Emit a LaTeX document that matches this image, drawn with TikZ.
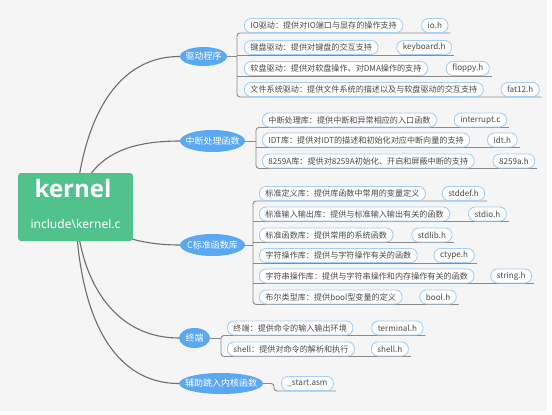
\documentclass[tikz,border=0pt]{standalone}
\usepackage{fontspec}
\setmainfont{Noto Sans}
\newfontfamily\cjk{Noto Sans CJK SC}
\newfontfamily\kfont{Open Sans}
\usetikzlibrary{shapes.geometric,positioning,backgrounds,calc}
\definecolor{bgc}{HTML}{F5F5F5}
\definecolor{kgreen}{HTML}{52C28D}
\definecolor{bblue}{HTML}{5AA8F2}
\definecolor{lborder}{HTML}{A6CFF5}
\definecolor{ltext}{HTML}{484848}
\definecolor{lline}{HTML}{8A8A8A}
\definecolor{cline}{HTML}{6E6E6E}
\begin{document}
\begin{tikzpicture}[x=1pt,y=-1pt,
  leaf/.style={draw=lborder, line width=0.9pt, fill=white, rounded corners=6.5pt,
    minimum height=14pt, inner xsep=6pt, inner ysep=0pt, text=ltext,
    font=\cjk\fontsize{8.1}{9}\selectfont, anchor=west},
  branch/.style={ellipse, fill=bblue, text=white, inner sep=0pt,
    font=\cjk\fontsize{9}{11}\selectfont},
  tree/.style={draw=lline, line width=0.9pt, rounded corners=3pt},
  curve/.style={draw=cline, line width=1.1pt},
]
\useasboundingbox (0,0) rectangle (552,415);
\begin{scope}[on background layer]
  \fill[white] (0,0) rectangle (552,415);
  \fill[bgc] (0,0) rectangle (547,411);
\end{scope}

% central node
\node[fill=kgreen, rounded corners=3pt, minimum width=115pt, minimum height=68pt, inner sep=0pt] (kernel) at (75.5,207) {};
\node[text=white, font=\kfont\bfseries\fontsize{24}{24}\selectfont, inner sep=0pt] (ktitle) at (73,188) {kernel};
\node[text=white, font=\fontsize{12}{14}\selectfont, inner sep=0pt] (ksub) at (75.5,224) {include\textbackslash kernel.c};

% branches
\node[branch, minimum width=47pt, minimum height=19pt] (drv) at (203.5,56.5) {\makebox[0pt]{驱动程序}};
\node[branch, minimum width=65pt, minimum height=22pt] (int) at (212.5,141) {\makebox[0pt]{中断处理函数}};
\node[branch, minimum width=65pt, minimum height=22pt] (clib) at (212.5,245) {\makebox[0pt]{C标准函数库}};
\node[branch, minimum width=31pt, minimum height=20pt] (term) at (194.5,338) {\makebox[0pt]{终端}};
\node[branch, minimum width=84pt, minimum height=21pt] (aux) at (221,383.5) {\makebox[0pt]{辅助跳入内核函数}};

% driver leaves
\node[leaf] (d1) at (244,25.5) {IO驱动：提供对IO端口与显存的操作支持};
\node[leaf, right=18pt of d1] (d1f) {io.h};
\node[leaf] (d2) at (244,47.5) {键盘驱动：提供对键盘的交互支持};
\node[leaf, right=18pt of d2] (d2f) {keyboard.h};
\node[leaf] (d3) at (244,68.5) {软盘驱动：提供对软盘操作、对DMA操作的支持};
\node[leaf, right=18pt of d3] (d3f) {floppy.h};
\node[leaf] (d4) at (244,89.5) {文件系统驱动：提供文件系统的描述以及与软盘驱动的交互支持};
\node[leaf, right=17pt of d4] (d4f) {fat12.h};

% interrupt leaves
\node[leaf] (i1) at (262,120) {中断处理库：提供中断和异常相应的入口函数};
\node[leaf, right=17pt of i1] (i1f) {interrupt.c};
\node[leaf] (i2) at (262,140) {IDT库：提供对IDT的描述和初始化对应中断向量的支持};
\node[leaf, right=17pt of i2] (i2f) {idt.h};
\node[leaf] (i3) at (262,161) {8259A库：提供对8259A初始化、开启和屏蔽中断的支持};
\node[leaf, right=18pt of i3] (i3f) {8259a.h};

% C library leaves
\node[leaf] (c1) at (259,193.5) {标准定义库：提供库函数中常用的变量定义};
\node[leaf, right=16pt of c1] (c1f) {stddef.h};
\node[leaf] (c2) at (259,214) {标准输入输出库：提供与标准输入输出有关的函数};
\node[leaf, right=18pt of c2] (c2f) {stdio.h};
\node[leaf] (c3) at (259,235) {标准函数库：提供常用的系统函数};
\node[leaf, right=18pt of c3] (c3f) {stdlib.h};
\node[leaf] (c4) at (259,255.5) {字符操作库：提供与字符操作有关的函数};
\node[leaf, right=16pt of c4] (c4f) {ctype.h};
\node[leaf] (c5) at (259,276) {字符串操作库：提供与字符串操作和内存操作有关的函数};
\node[leaf, right=16pt of c5] (c5f) {string.h};
\node[leaf] (c6) at (259,297) {布尔类型库：提供bool型变量的定义};
\node[leaf, right=17pt of c6] (c6f) {bool.h};

% terminal leaves
\node[leaf] (t1) at (227,328) {终端：提供命令的输入输出环境};
\node[leaf, right=18pt of t1] (t1f) {terminal.h};
\node[leaf] (t2) at (227,349) {shell：提供对命令的解析和执行};
\node[leaf, right=16pt of t2] (t2f) {shell.h};

% aux leaf
\node[leaf] (a1) at (281,383.5) {\_start.asm};

% bracket x positions
\coordinate (bd) at (237,0);
\coordinate (bi) at (256,0);
\coordinate (bc) at (253,0);
\coordinate (bt) at (221,0);
\coordinate (ba) at (274,0);

\begin{scope}[on background layer]
  % curves from the central node
  \draw[curve] (kernel.center) .. controls (81,135) and (108,56.5) .. (drv.west);
  \draw[curve] (kernel.center) .. controls (88,160) and (120,141) .. (int.west);
  \draw[curve] (kernel.center) .. controls (105,235) and (140,245) .. (clib.west);
  \draw[curve] (kernel.center) .. controls (80,290) and (120,338) .. (term.west);
  \draw[curve] (kernel.center) .. controls (78,320) and (115,383.5) .. (aux.west);

  % driver tree
  \draw[tree] (drv.east) -- (drv.east -| bd);
  \draw[tree] ([xshift=2pt]d1f.south east) -- (bd |- d1.south) -- (bd |- d4.south) -- ([xshift=2pt]d4f.south east);
  \draw[tree] (bd |- d2.south) -- ([xshift=2pt]d2f.south east);
  \draw[tree] (bd |- d3.south) -- ([xshift=2pt]d3f.south east);

  % interrupt tree
  \draw[tree] (int.east) -- (int.east -| bi);
  \draw[tree] ([xshift=2pt]i1f.south east) -- (bi |- i1.south) -- (bi |- i3.south) -- ([xshift=2pt]i3f.south east);
  \draw[tree] (bi |- i2.south) -- ([xshift=2pt]i2f.south east);

  % C library tree
  \draw[tree] (clib.east) -- (clib.east -| bc);
  \draw[tree] ([xshift=2pt]c1f.south east) -- (bc |- c1.south) -- (bc |- c6.south) -- ([xshift=2pt]c6f.south east);
  \draw[tree] (bc |- c2.south) -- ([xshift=2pt]c2f.south east);
  \draw[tree] (bc |- c3.south) -- ([xshift=2pt]c3f.south east);
  \draw[tree] (bc |- c4.south) -- ([xshift=2pt]c4f.south east);
  \draw[tree] (bc |- c5.south) -- ([xshift=2pt]c5f.south east);

  % terminal tree
  \draw[tree] (term.east) -- (term.east -| bt);
  \draw[tree] ([xshift=2pt]t1f.south east) -- (bt |- t1.south) -- (bt |- t2.south) -- ([xshift=2pt]t2f.south east);

  % aux tree
  \draw[tree] (aux.east) -- (aux.east -| ba) -- (ba |- a1.south) -- ([xshift=2pt]a1.south east);
\end{scope}
\end{tikzpicture}
\end{document}
